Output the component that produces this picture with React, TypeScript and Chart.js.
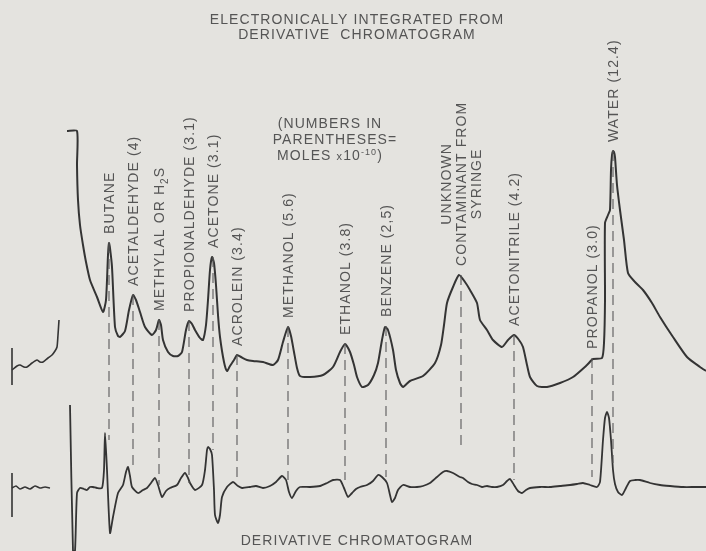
import React, { useEffect, useRef } from "react";
import { Chart, registerables } from "chart.js";

Chart.register(...registerables);

const upperTrace: [number, number][] = [
  [67, 131], [77, 131], [77, 165], [78, 200], [80, 225], [83, 245], [86, 262], [90, 280], [97, 297], [103, 312],
  [106, 300], [108, 255], [109, 243], [110, 248], [112, 267], [115, 327], [118, 336], [120, 337], [125, 331],
  [129, 310], [133, 295], [136, 300], [140, 312], [145, 327], [152, 335], [156, 330], [159, 320], [161, 325],
  [163, 340], [168, 352], [173, 356], [178, 356], [182, 352], [186, 330], [189, 321], [192, 324], [195, 330],
  [200, 338], [203, 340], [206, 325], [208, 300], [210, 270], [212, 257], [214, 263], [216, 285], [218, 315],
  [220, 337], [224, 362], [227, 371], [230, 366], [234, 360], [237, 355], [241, 357], [247, 360], [253, 361],
  [263, 362], [273, 365], [278, 360], [283, 342], [288, 327], [291, 336], [294, 352], [297, 368], [300, 376],
  [310, 377], [323, 375], [333, 367], [340, 352], [345, 344], [350, 352], [354, 365], [357, 377], [362, 387],
  [368, 385], [374, 375], [378, 363], [382, 340], [385, 327], [388, 330], [393, 350], [396, 370], [400, 383],
  [403, 387], [410, 381], [423, 376], [435, 363], [441, 345], [444, 325], [447, 303], [453, 287], [459, 275],
  [465, 282], [470, 290], [477, 303], [480, 320], [487, 330], [493, 340], [502, 347], [508, 340], [514, 335],
  [519, 340], [523, 347], [527, 365], [530, 377], [537, 386], [547, 387], [560, 383], [573, 377], [587, 365],
  [593, 359], [602, 358], [604, 343], [605, 300], [605, 223], [608, 215], [610, 210], [611, 170], [612, 155],
  [613, 151], [614, 152], [615, 157], [617, 185], [620, 210], [624, 240], [628, 273], [635, 282], [643, 290],
  [652, 303], [660, 317], [673, 337], [687, 357], [700, 367], [706, 371],
];

const upperStub: [number, number][] = [
  [12, 370], [17, 366], [20, 365], [24, 367], [27, 367], [32, 363], [37, 360], [40, 362], [43, 362],
  [48, 358], [52, 355], [55, 351], [57, 347], [58, 335], [59, 320],
];
const upperStubTick: [number, number][] = [[12, 348], [12, 385]];

const lowerTrace: [number, number][] = [
  [70, 405], [73, 551], [75, 551], [77, 493], [80, 488], [84, 489], [87, 490], [90, 487], [93, 487], [97, 488],
  [102, 488], [104, 470], [105, 433], [107, 470], [110, 533], [113, 517], [118, 493], [123, 485], [126, 472],
  [128, 467], [130, 476], [132, 487], [138, 493], [143, 490], [147, 488], [151, 483], [155, 478], [158, 485],
  [162, 497], [166, 491], [170, 488], [177, 485], [181, 478], [185, 473], [188, 478], [190, 483], [195, 490],
  [202, 485], [205, 470], [207, 450], [208, 447], [210, 449], [212, 455], [214, 490], [215, 515], [218, 523],
  [220, 515], [222, 497], [227, 487], [233, 482], [238, 486], [242, 488], [250, 487], [256, 486], [263, 488],
  [270, 486], [276, 482], [282, 476], [286, 480], [289, 492], [292, 498], [296, 491], [300, 487], [310, 487],
  [320, 486], [327, 483], [333, 480], [340, 480], [344, 488], [348, 497], [352, 493], [356, 489], [360, 487],
  [367, 485], [373, 481], [378, 475], [382, 477], [387, 483], [390, 495], [392, 502], [395, 498], [398, 490],
  [403, 485], [410, 487], [417, 487], [423, 486], [430, 483], [437, 477], [443, 472], [447, 471], [453, 473],
  [460, 477], [463, 478], [468, 482], [472, 484], [477, 485], [482, 487], [487, 486], [492, 487], [497, 487],
  [503, 485], [507, 481], [510, 479], [514, 485], [518, 491], [522, 493], [526, 490], [530, 488], [540, 487],
  [550, 487], [560, 486], [570, 485], [577, 484], [583, 483], [590, 485], [597, 487], [600, 482], [603, 440],
  [605, 418], [607, 412], [609, 418], [611, 440], [613, 470], [615, 484], [618, 492], [622, 495], [626, 488],
  [630, 481], [635, 480], [640, 480], [650, 483], [660, 485], [670, 486], [683, 487], [695, 487], [706, 487],
];

const lowerStub: [number, number][] = [
  [12, 488], [16, 486], [20, 489], [25, 487], [30, 489], [35, 486], [40, 488], [45, 487], [50, 488],
];
const lowerStubTick: [number, number][] = [[12, 473], [12, 517]];

const peakNames = [
  "BUTANE",
  "ACETALDEHYDE (4)",
  "METHYLAL OR H₂S",
  "PROPIONALDEHYDE (3.1)",
  "ACETONE (3.1)",
  "ACROLEIN (3.4)",
  "METHANOL (5.6)",
  "ETHANOL (3.8)",
  "BENZENE (2,5)",
  "UNKNOWN\nCONTAMINANT FROM\nSYRINGE",
  "ACETONITRILE (4.2)",
  "PROPANOL (3.0)",
  "WATER (12.4)",
];
const peakTimes = [109, 133, 159, 189, 213, 237, 288, 345, 386, 461, 514, 592, 613];
const peakTops = [243, 295, 320, 321, 257, 355, 327, 344, 326, 275, 335, 358, 151];
const peakDashEnds = [440, 468, 485, 483, 450, 483, 480, 480, 477, 450, 480, 477, 463];

const titleLines = ["ELECTRONICALLY INTEGRATED FROM", "DERIVATIVE  CHROMATOGRAM"];
const noteLines = ["(NUMBERS IN", "PARENTHESES="];
const bottomTitle = "DERIVATIVE CHROMATOGRAM";

// ---------- STYLE ----------
const BG = "#e4e3df";
const INK = "#343434";
const TEXT = "#555555";
const FONT_FAMILY = '"Liberation Sans", Arial, sans-serif';
const FONT_SIZE = 14;
const SPACING = "1.1px";

type Part = { t: string; size?: number; dy?: number };

function parseParts(s: string): Part[] {
  const out: Part[] = [];
  let buf = "";
  for (const ch of s) {
    if (ch === "₂") {
      if (buf) out.push({ t: buf });
      buf = "";
      out.push({ t: "2", size: 10, dy: 4 });
    } else buf += ch;
  }
  if (buf) out.push({ t: buf });
  return out;
}

function setFont(ctx: CanvasRenderingContext2D, size: number) {
  ctx.font = `${size}px ${FONT_FAMILY}`;
  (ctx as any).letterSpacing = SPACING;
}

function measureRich(ctx: CanvasRenderingContext2D, parts: Part[]) {
  let w = 0;
  for (const p of parts) {
    setFont(ctx, p.size ?? FONT_SIZE);
    w += ctx.measureText(p.t).width;
  }
  return w;
}

function drawRich(
  ctx: CanvasRenderingContext2D,
  parts: Part[],
  x: number,
  y: number,
  align: "left" | "center"
) {
  const total = measureRich(ctx, parts);
  let cx = align === "center" ? x - total / 2 : x;
  ctx.textAlign = "left";
  ctx.textBaseline = "alphabetic";
  for (const p of parts) {
    setFont(ctx, p.size ?? FONT_SIZE);
    ctx.fillText(p.t, cx, y + (p.dy ?? 0));
    cx += ctx.measureText(p.t).width;
  }
}

const toXY = (pts: [number, number][]) => pts.map(([x, y]) => ({ x, y }));

const traceStyle = (w: number) => ({
  borderColor: INK,
  borderWidth: w,
  pointRadius: 0,
  fill: false,
  tension: 0.2,
});

const annotationPlugin = {
  id: "chromLabels",
  afterDatasetsDraw(chart: any) {
    const { ctx, scales } = chart;
    const xs = scales.x;
    const ys = scales.y;
    const cap = 5;
    ctx.save();
    ctx.fillStyle = TEXT;

    peakNames.forEach((name, i) => {
      const px = xs.getPixelForValue(peakTimes[i]);
      const py = ys.getPixelForValue(peakTops[i]) - 9;
      const lines = name.split("\n");
      ctx.save();
      ctx.translate(px, py);
      ctx.rotate(-Math.PI / 2);
      if (lines.length === 1) {
        drawRich(ctx, parseParts(lines[0]), 0, cap, "left");
      } else {
        const widths = lines.map((l) => measureRich(ctx, parseParts(l)));
        const maxW = Math.max(...widths);
        lines.forEach((l, j) => {
          drawRich(ctx, parseParts(l), maxW / 2, cap + (j - (lines.length - 1) / 2) * 15, "center");
        });
      }
      ctx.restore();
    });

    // Titles
    drawRich(ctx, [{ t: titleLines[0] }], 357, 19 + cap, "center");
    drawRich(ctx, [{ t: titleLines[1] }], 357, 34 + cap, "center");
    drawRich(ctx, [{ t: bottomTitle }], 357, 540 + cap, "center");

    // Note
    drawRich(ctx, [{ t: noteLines[0] }], 330, 123 + cap, "center");
    drawRich(ctx, [{ t: noteLines[1] }], 335, 139 + cap, "center");
    drawRich(
      ctx,
      [
        { t: "MOLES " },
        { t: "x", size: 11 },
        { t: "10" },
        { t: "-10", size: 9, dy: -5 },
        { t: ")" },
      ],
      330,
      155 + cap,
      "center"
    );
    ctx.restore();
  },
};

export default function App() {
  const ref = useRef<HTMLCanvasElement>(null);

  useEffect(() => {
    const dashData: { x: number; y: number | null }[] = [];
    peakTimes.forEach((t, i) => {
      dashData.push({ x: t, y: peakTops[i] });
      dashData.push({ x: t, y: peakDashEnds[i] });
      dashData.push({ x: t, y: null });
    });

    const chart = new Chart(ref.current!, {
      type: "line",
      data: {
        datasets: [
          {
            data: dashData as any,
            borderColor: "#5a5a5a",
            borderWidth: 1.1,
            borderDash: [10, 6],
            pointRadius: 0,
            tension: 0,
            spanGaps: false,
          },
          { data: toXY(upperTrace), ...traceStyle(2) },
          { data: toXY(upperStub), ...traceStyle(1.6) },
          { data: toXY(upperStubTick), ...traceStyle(1.6), tension: 0 },
          { data: toXY(lowerTrace), ...traceStyle(1.8) },
          { data: toXY(lowerStub), ...traceStyle(1.6) },
          { data: toXY(lowerStubTick), ...traceStyle(1.6), tension: 0 },
        ] as any,
      },
      options: {
        responsive: false,
        maintainAspectRatio: false,
        animation: false,
        devicePixelRatio: 1,
        layout: { padding: 0 },
        scales: {
          x: { type: "linear", min: 0, max: 706, display: false },
          y: { type: "linear", min: 0, max: 551, reverse: true, display: false },
        },
        plugins: {
          legend: { display: false },
          tooltip: { enabled: false },
          title: { display: false },
        },
      },
      plugins: [annotationPlugin],
    });
    return () => chart.destroy();
  }, []);

  return (
    <div
      style={{
        position: "absolute",
        left: 0,
        top: 0,
        width: 706,
        height: 551,
        background: BG,
      }}
    >
      <canvas ref={ref} width={706} height={551} style={{ display: "block" }} />
    </div>
  );
}
